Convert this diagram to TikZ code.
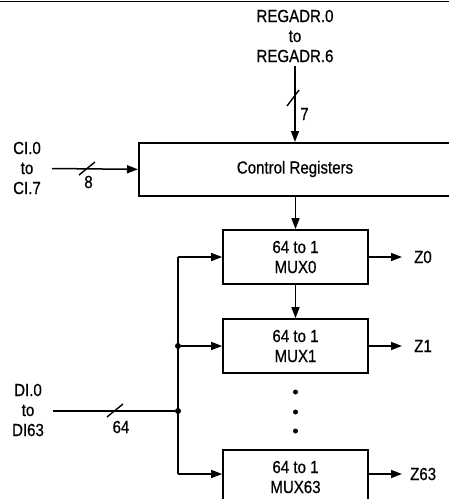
\documentclass[tikz,border=0pt]{standalone}
\usepackage{fontspec}
\setmainfont{Liberation Sans}[FakeStretch=0.86,FakeBold=0.6]
\usetikzlibrary{arrows.meta}
\begin{document}
\begin{tikzpicture}[x=1pt,y=-1pt,
  every node/.style={font=\fontsize{17.5}{20}\selectfont},
  wire/.style={line width=1.5pt},
  sig/.style={wire,-{Triangle[length=11pt,width=8pt]}},
  slash/.style={line width=1.4pt},
  muxbox/.style={draw,line width=1.7pt,minimum width=145pt,minimum height=54pt,inner sep=0pt,align=center},
  lbl/.style={align=center,inner sep=1pt},
  junction/.style={circle,fill,inner sep=0pt,minimum size=6pt}]
\useasboundingbox (0,0) rectangle (449,499);
% top rule
\draw[line width=1.5pt] (0,1.5) -- (449,1.5);
% control registers box (runs past the right edge)
\node (ctrl) [draw,line width=1.7pt,minimum width=340pt,minimum height=53pt,anchor=north west,inner sep=0pt] at (138,142) {};
\node (ctrltext) [lbl] at (295,169) {Control Registers};
% REGADR input
\node (regadr) [lbl] at (295,36) {REGADR.0\\to\\REGADR.6};
\coordinate (rtop) at (295,66);
\draw[sig] (rtop) -- (rtop |- ctrl.north);
\coordinate (rs1) at (287,106);
\coordinate (rs2) at (299,90);
\draw[slash] (rs1) -- (rs2);
\node (n7) [lbl] at (304.5,114) {7};
% CI input
\node (ci) [lbl] at (27,168) {CI.0\\to\\CI.7};
\coordinate (cistart) at (52,168.5);
\draw[sig] (cistart) -- (ctrl.west);
\coordinate (cs1) at (79,175);
\coordinate (cs2) at (95,162);
\draw[slash] (cs1) -- (cs2);
\node (n8) [lbl] at (88.5,182) {8};
% multiplexers
\node (mux0) [muxbox] at (295.5,257) {64 to 1\\MUX0};
\node (mux1) [muxbox] at (295.5,346) {64 to 1\\MUX1};
\node (mux63) [muxbox] at (295.5,477) {64 to 1\\MUX63};
\draw[sig] (ctrl.south -| mux0.north) -- (mux0.north);
\draw[sig] (mux0.south) -- (mux1.north);
% dots
\node (d1) [junction,minimum size=5pt] at (295.5,392) {};
\node (d2) [junction,minimum size=5pt] at (295.5,412) {};
\node (d3) [junction,minimum size=5pt] at (295.5,431) {};
% outputs
\node (z0) [lbl,anchor=west,inner sep=0pt] at (414,257) {Z0};
\node (z1) [lbl,anchor=west,inner sep=0pt] at (414,346) {Z1};
\node (z63) [lbl,anchor=west,inner sep=0pt] at (410,474) {Z63};
\coordinate (t0) at (402,257);
\coordinate (t1) at (402,346);
\coordinate (t63) at (402,474);
\draw[sig] (mux0.east) -- (t0);
\draw[sig] (mux1.east) -- (t1);
\draw[sig] (t63 -| mux63.east) -- (t63);
% DI bus
\node (di) [lbl] at (28,410) {DI.0\\to\\DI63};
\coordinate (distart) at (53,411);
\node (j1) [junction] at (178,346) {};
\node (j2) [junction] at (178,411) {};
\coordinate (btop) at (178,257);
\coordinate (bbot) at (178,474);
\draw[wire] (distart) -- (j2);
\draw[wire] (btop) -- (bbot);
\draw[sig] (btop) -- (mux0.west);
\draw[sig] (j1) -- (mux1.west);
\draw[sig] (bbot) -- (bbot -| mux63.west);
\coordinate (ds1) at (107,417);
\coordinate (ds2) at (123,404);
\draw[slash] (ds1) -- (ds2);
\node (n64) [lbl] at (121,427) {64};
\end{tikzpicture}
\end{document}
